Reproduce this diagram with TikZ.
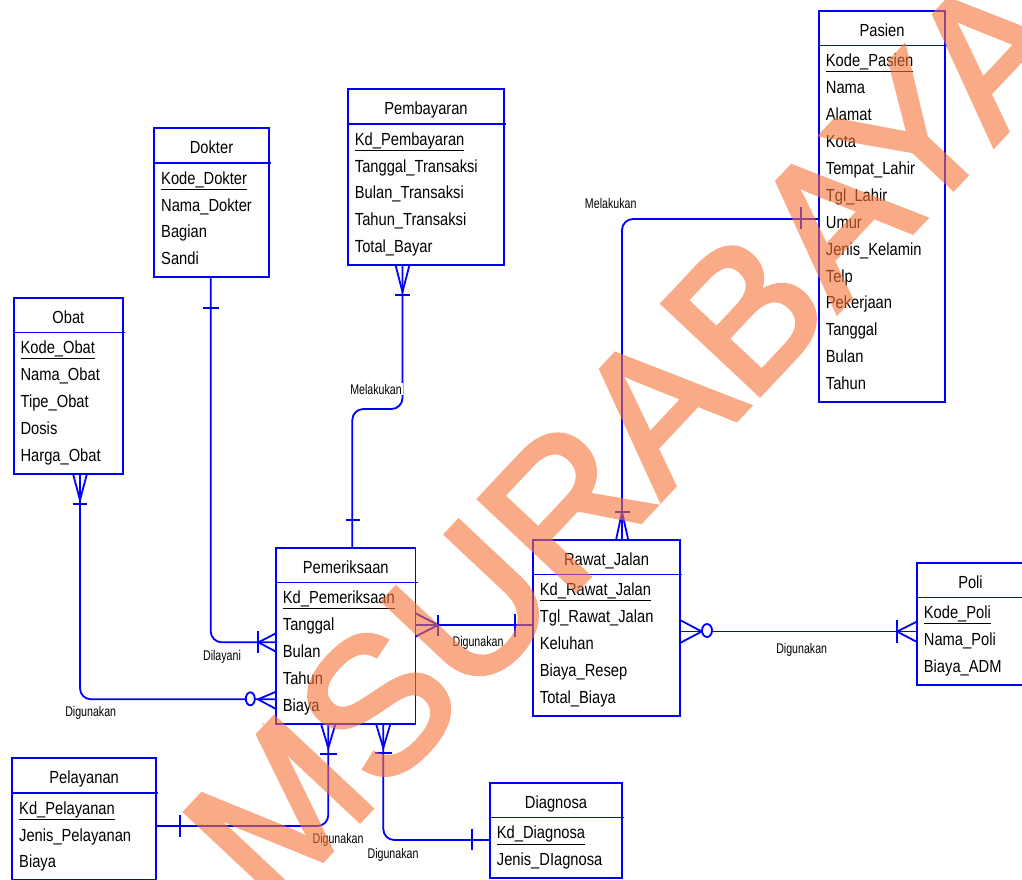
\documentclass[tikz,border=0pt]{standalone}
\usepackage{fontspec}
\setmainfont{Liberation Sans}[FakeStretch=0.84]
\newfontfamily\labelfont{Liberation Sans}[FakeStretch=0.76]
\newfontfamily\markfont{Liberation Sans}[FakeBold=2.5]

\definecolor{erblue}{RGB}{0,0,255}
\definecolor{markorange}{RGB}{245,115,55}

\tikzset{
  entity/.style={draw=erblue, line width=1.8pt, anchor=north west, inner sep=0pt, outer sep=0pt},
  ertitle/.style={anchor=base, inner sep=0pt, font=\fontsize{17.5}{20}\selectfont},
  erattr/.style={anchor=base west, inner sep=0pt, font=\fontsize{17.5}{20}\selectfont},
  relline/.style={draw=erblue, line width=1.8pt, rounded corners=11pt},
  relmark/.style={draw=erblue, line width=1.8pt},
  rellabel/.style={fill=white, inner sep=1pt, font=\labelfont\fontsize{14}{16}\selectfont},
  markstyle/.style={text=markorange, rotate=46.8, inner sep=0pt,
    font=\markfont\fontsize{193}{193}\selectfont}
}

% \erentity{name}{x}{y}{width}{height}{title}{attributes}
\newcommand{\erentity}[7]{%
  \node[entity, minimum width=#4pt, minimum height=#5pt] (#1) at (#2,#3) {};
  \draw[erblue, line width=1.8pt] ([yshift=-34.5pt]#1.north west) -- ([yshift=-34.5pt,xshift=2pt]#1.north east);
  \node[ertitle] (#1-title) at ([yshift=-25pt]#1.north) {#6};
  \foreach \attr [count=\i] in {#7}
    \node[erattr] (#1-\i) at ([xshift=6.7pt, yshift={-55.8pt-(\i-1)*26.9pt}]#1.north west) {\attr};
}

\begin{document}
\begin{tikzpicture}[x=1pt,y=-1pt]
\useasboundingbox (0,0) rectangle (1022,879);
\clip (0,0) rectangle (1022,879);

%
% Draw the entities
%

\erentity{pasien}{819}{11}{126}{391}{Pasien}{\underline{Kode\_Pasien}, Nama, Alamat, Kota, Tempat\_Lahir, Tgl\_Lahir, Umur, Jenis\_Kelamin, Telp, Pekerjaan, Tanggal, Bulan, Tahun}
\erentity{dokter}{154.3}{128.3}{114.4}{149}{Dokter}{\underline{Kode\_Dokter}, Nama\_Dokter, Bagian, Sandi}
\erentity{pembayaran}{348}{89.3}{156}{175.7}{Pembayaran}{\underline{Kd\_Pembayaran}, Tanggal\_Transaksi, Bulan\_Transaksi, Tahun\_Transaksi, Total\_Bayar}
\erentity{obat}{13.7}{298}{109.4}{175.7}{Obat}{\underline{Kode\_Obat}, Nama\_Obat, Tipe\_Obat, Dosis, Harga\_Obat}
\erentity{pemeriksaan}{276}{548}{139.5}{175.7}{Pemeriksaan}{\underline{Kd\_Pemeriksaan}, Tanggal, Bulan, Tahun, Biaya}
\erentity{rawatjalan}{533}{540}{147}{175.7}{Rawat\_Jalan}{\underline{Kd\_Rawat\_Jalan}, Tgl\_Rawat\_Jalan, Keluhan, Biaya\_Resep, Total\_Biaya}
\erentity{poli}{917}{563}{107}{122}{Poli}{\underline{Kode\_Poli}, Nama\_Poli, Biaya\_ADM}
\erentity{pelayanan}{12.3}{758.3}{143.7}{122}{Pelayanan}{\underline{Kd\_Pelayanan}, Jenis\_Pelayanan, Biaya}
\erentity{diagnosa}{490}{783}{132}{95}{Diagnosa}{\underline{Kd\_Diagnosa}, Jenis\_DIagnosa}

%
% Dokter -- Pemeriksaan
%

\draw[relline] ([xshift=56.4pt]dokter.south west) |- ([yshift=-94.3pt]pemeriksaan.north west);
\draw[relmark] (203,307.7) -- (218.5,307.7);
\draw[relmark] (258.3,631) -- (258.3,653);
\draw[relmark] (276,633.3) -- (258.3,642.3) -- (276,651.7);
\node[rellabel] (dilayani) at (222,657) {Dilayani};

%
% Obat -- Pemeriksaan
%

\draw[relline] ([xshift=66.3pt]obat.south west) |- ([yshift=-151.3pt]pemeriksaan.north west);
\draw[relmark] (73,473.7) -- (80,500) -- (87,473.7);
\draw[relmark] (72.7,504) -- (87.3,504);
\draw[relmark] (276,691.7) -- (258,699.3) -- (276,709);
\draw[relmark,fill=white] (250.3,698.8) ellipse [x radius=4.5pt, y radius=6.5pt];
\node[rellabel] (digunakan-obat) at (90.7,713) {Digunakan};

%
% Pembayaran -- Pemeriksaan
%

\draw[relline] ([xshift=54.5pt]pembayaran.south west) -- ++(0,144) -| ([xshift=76.3pt]pemeriksaan.north west);
\draw[relmark] (395.5,265) -- (402.5,292) -- (409.5,265);
\draw[relmark] (395,295) -- (410,295);
\draw[relmark] (345.5,520) -- (360,520);
\node[rellabel] (melakukan-bayar) at (376,389) {Melakukan};

%
% Pemeriksaan -- Rawat_Jalan
%

\draw[relline] ([yshift=-77pt]pemeriksaan.north east) -- ([yshift=-85pt]rawatjalan.north west);
\draw[relmark] (415.5,613.3) -- (438.3,625) -- (415.5,636.5);
\draw[relmark] (438.3,614.5) -- (438.3,635.5);
\draw[relmark] (515,614) -- (515,637);
\node[rellabel] (digunakan-rawat) at (478,643) {Digunakan};

%
% Rawat_Jalan -- Pasien
%

\draw[relline] ([xshift=89pt]rawatjalan.north west) |- ([yshift=-208pt]pasien.north west);
\draw[relmark] (616,540) -- (622,512) -- (628.3,540);
\draw[relmark] (615,512) -- (630,512);
\draw[relmark] (800.7,207) -- (800.7,229);
\node[rellabel] (melakukan-pasien) at (610.7,203.3) {Melakukan};

%
% Rawat_Jalan -- Poli
%

\draw[relline] ([yshift=-91.5pt]rawatjalan.north east) -- ([yshift=-68.5pt]poli.north west);
\draw[relmark] (680,620) -- (701.7,631.5) -- (680,643);
\draw[relmark,fill=white] (707,630.5) ellipse [x radius=5pt, y radius=6.5pt];
\draw[relmark] (897,619.5) -- (897,642.5);
\draw[relmark] (917,621.5) -- (897,631.5) -- (917,642);
\node[rellabel] (digunakan-poli) at (801.7,650) {Digunakan};

%
% Pemeriksaan -- Pelayanan
%

\draw[relline] ([xshift=52.3pt]pemeriksaan.south west) |- ([yshift=-67.7pt]pelayanan.north east);
\draw[relmark] (321,723.7) -- (328.3,748) -- (335.5,723.7);
\draw[relmark] (320,754) -- (336.5,754);
\draw[relmark] (179.7,815) -- (179.7,837);
\node[rellabel] (digunakan-layan) at (338,839.5) {Digunakan};

%
% Pemeriksaan -- Diagnosa
%

\draw[relline] ([xshift=107.3pt]pemeriksaan.south west) |- ([yshift=-57pt]diagnosa.north west);
\draw[relmark] (376,723.7) -- (383.3,748) -- (390.5,723.7);
\draw[relmark] (375,753) -- (391.5,753);
\draw[relmark] (472,828.5) -- (472,850);
\node[rellabel] (digunakan-diag) at (393,854.5) {Digunakan};

%
% Watermark across the page
%

\begin{scope}[transparency group, opacity=0.6]
\node[markstyle, anchor=base west] (mark) at (382,797) {SURABAYA};
\node[markstyle, anchor=base east] (mark-m) at (mark.base west) {M\ };
\end{scope}

\end{tikzpicture}
\end{document}
